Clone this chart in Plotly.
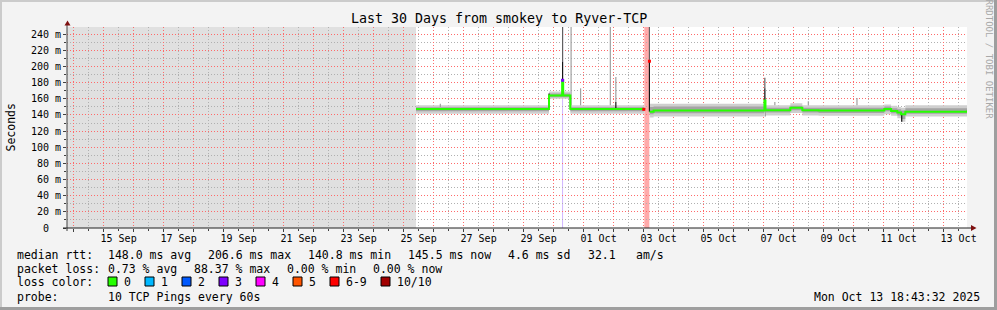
import plotly.graph_objects as go
import datetime as _dt
import pandas as pd

# ---------------- data ----------------
graph_start = "2025-09-13 18:43:32"
graph_end = "2025-10-13 18:43:32"
nodata_start = graph_start
nodata_end = "2025-09-25 09:55"

x_tick_labels = ["15 Sep", "17 Sep", "19 Sep", "21 Sep", "23 Sep", "25 Sep", "27 Sep",
                 "29 Sep", "01 Oct", "03 Oct", "05 Oct", "07 Oct", "09 Oct", "11 Oct", "13 Oct"]
y_tick_values = [0, 20, 40, 60, 80, 100, 120, 140, 160, 180, 200, 220, 240]
y_tick_labels = ["0  ", "20 m", "40 m", "60 m", "80 m", "100 m", "120 m", "140 m",
                 "160 m", "180 m", "200 m", "220 m", "240 m"]

# median rtt / smoke breakpoints in ms (None row = 100% loss gap)
bp_time = ["2025-09-25 09:55", "2025-09-29 20:20", "2025-09-30 06:50", "2025-09-30 07:40",
           "2025-09-30 13:24", "2025-10-03 00:34",
           None,
           "2025-10-03 04:48", "2025-10-03 08:00", "2025-10-07 00:40", "2025-10-07 01:30",
           "2025-10-07 21:24", "2025-10-08 07:00", "2025-10-08 20:00", "2025-10-11 00:36",
           "2025-10-11 06:00", "2025-10-11 11:00", "2025-10-11 14:00", "2025-10-11 17:24",
           "2025-10-13 18:43:32"]
bp_median = [147.5, 164.0, 183.0, 164.0, 147.5, 147.0,
             None,
             144.0, 145.5, 158.0, 146.0, 149.0, 146.0, 145.5, 147.5, 145.0, 143.0, 140.8, 144.0, 145.5]
bp_outer_lo = [141.5, 160.0, 160.0, 160.0, 141.5, 141.5,
               None,
               137.0, 138.0, 143.0, 139.5, 142.5, 139.5, 139.0, 141.0, 139.0, 136.0, 131.5, 138.0, 138.5]
bp_inner_lo = [144.5, 162.0, 162.0, 162.0, 144.5, 144.5,
               None,
               141.0, 142.0, 146.0, 143.0, 146.0, 143.0, 142.5, 144.5, 142.0, 139.5, 135.0, 141.5, 142.0]
bp_inner_hi = [149.5, 166.5, 166.5, 166.5, 149.5, 149.5,
               None,
               150.0, 150.5, 162.0, 149.0, 151.5, 149.0, 149.0, 150.5, 148.5, 147.0, 145.5, 148.5, 149.0]
bp_outer_hi = [152.0, 169.0, 169.0, 169.0, 152.0, 152.0,
               None,
               154.0, 154.0, 170.0, 152.0, 154.5, 152.0, 152.0, 153.0, 151.5, 150.0, 149.0, 152.0, 152.0]

# isolated smoke spikes (ms); shade: 0 light, 1 mid, 2 dark
spike_time = ["2025-09-26 05:24", "2025-09-29 20:20", "2025-09-30 07:12", "2025-09-30 07:12",
              "2025-09-30 13:24", "2025-09-30 14:00", "2025-09-30 21:36", "2025-10-01 21:24",
              "2025-10-02 01:48", "2025-10-02 01:48", "2025-10-03 04:40", "2025-10-03 04:40",
              "2025-10-07 01:00", "2025-10-07 01:00", "2025-10-07 01:24", "2025-10-07 09:00",
              "2025-10-08 11:48", "2025-10-10 02:42", "2025-10-11 14:30"]
spike_lo = [150, 147.5, 164, 206, 147.5, 152, 152, 152, 147.5, 156, 144, 206.6,
            146, 173, 138, 152, 152, 152, 131.5]
spike_hi = [154, 166.5, 206, 249, 164, 249, 173, 249, 156, 187, 206.6, 249,
            173, 186, 146, 156, 157, 161, 141]
spike_shade = [0, 2, 2, 1, 2, 0, 0, 0, 2, 0, 2, 1,
               2, 1, 0, 0, 0, 0, 2]

# median samples with packet loss (colored by loss)
loss_pt_time = ["2025-09-30 07:12", "2025-10-03 00:10", "2025-10-03 04:40"]
loss_pt_ms = [183.0, 147.0, 206.6]
loss_pt_color = ["#7e00ff", "#ff0000", "#ff0000"]

# loss background bands
loss_band_start = ["2025-09-30 06:52", "2025-10-03 00:34"]
loss_band_end = ["2025-09-30 07:34", "2025-10-03 04:36"]
loss_band_color = ["#c8aaff", "#ffaaaa"]

legend_loss_labels = ["0", "1", "2", "3", "4", "5", "6-9", "10/10"]
legend_loss_colors = ["#26ff00", "#00b8ff", "#0059ff", "#7e00ff", "#ff00ff", "#ff5500", "#ff0000", "#a10000"]

# ---------------- layout geometry ----------------
W, H = 997, 310
PL, PR, PT, PB = 67, 967, 27, 228
FONT = "DejaVu Sans Mono"


def px(xp):
    return (xp - PL) / (PR - PL)


def py(yp):
    return (PB - yp) / (PB - PT)


fig = go.Figure()

segs = []
cur = []
for i, t in enumerate(bp_time):
    if t is None:
        if cur:
            segs.append(cur)
        cur = []
    else:
        cur.append(i)
if cur:
    segs.append(cur)

OUTER = "#cfcfcf"
INNER = "#a4a4a4"
for idx in segs:
    t = [bp_time[i] for i in idx]
    fig.add_trace(go.Scatter(x=t, y=[bp_outer_lo[i] for i in idx], mode="lines",
                             line=dict(width=0, shape="hv"), hoverinfo="skip"))
    fig.add_trace(go.Scatter(x=t, y=[bp_outer_hi[i] for i in idx], mode="lines", fill="tonexty",
                             fillcolor=OUTER, line=dict(width=0, shape="hv"), hoverinfo="skip"))
    fig.add_trace(go.Scatter(x=t, y=[bp_inner_lo[i] for i in idx], mode="lines",
                             line=dict(width=0, shape="hv"), hoverinfo="skip"))
    fig.add_trace(go.Scatter(x=t, y=[bp_inner_hi[i] for i in idx], mode="lines", fill="tonexty",
                             fillcolor=INNER, line=dict(width=0, shape="hv"), hoverinfo="skip"))

for shade, col in [(0, "#a0a0a0"), (1, "#606060"), (2, "#141414")]:
    xs, ys = [], []
    for t, lo, hi, s in zip(spike_time, spike_lo, spike_hi, spike_shade):
        if s == shade:
            xs += [t, t, None]
            ys += [lo, hi, None]
    fig.add_trace(go.Scatter(x=xs, y=ys, mode="lines", line=dict(color=col, width=1.2),
                             hoverinfo="skip"))

for idx in segs:
    fig.add_trace(go.Scatter(x=[bp_time[i] for i in idx], y=[bp_median[i] for i in idx],
                             mode="lines", line=dict(color="#26ff00", width=2, shape="hv"),
                             hoverinfo="skip"))

fig.add_trace(go.Scatter(x=loss_pt_time, y=loss_pt_ms, mode="markers",
                         marker=dict(symbol="square", size=3, color=loss_pt_color, line=dict(width=0)),
                         hoverinfo="skip"))

label_times = [_dt.datetime.strptime(f"{lab} 2025 12:00", "%d %b %Y %H:%M") for lab in x_tick_labels]
fig.add_trace(go.Scatter(x=[graph_start, graph_end], y=[None, None], xaxis="x2", mode="lines",
                         hoverinfo="skip"))

# grid positions: midnights (major) and noons (minor); y minor between major ticks
x_major_grid = list(pd.date_range("2025-09-14 00:00", "2025-10-13 00:00", freq="D"))
x_minor_grid = list(pd.date_range("2025-09-13 12:00", "2025-10-13 12:00", freq="D"))
y_minor_grid = [v + 10 for v in y_tick_values]

shapes = []
shapes.append(dict(type="rect", xref="x", yref="paper", x0=nodata_start, x1=nodata_end, y0=0, y1=1,
                   fillcolor="#e0e0e0", line=dict(width=0), layer="below"))
for s, e, c in zip(loss_band_start, loss_band_end, loss_band_color):
    shapes.append(dict(type="rect", xref="x", yref="paper", x0=s, x1=e, y0=0, y1=1,
                       fillcolor=c, line=dict(width=0), layer="between"))

AX = "#404040"
shapes.append(dict(type="line", xref="paper", yref="paper", x0=px(PL), x1=px(PL), y0=py(231), y1=py(25),
                   line=dict(color=AX, width=1), layer="above"))
shapes.append(dict(type="line", xref="paper", yref="paper", x0=px(63), x1=px(971), y0=py(PB), y1=py(PB),
                   line=dict(color="#202020", width=1), layer="above"))
ARR = "#7f1010"
shapes.append(dict(type="path", xref="paper", yref="paper",
                   path=f"M {px(67.5)},{py(20.5)} L {px(64.5)},{py(25.5)} L {px(70.5)},{py(25.5)} Z",
                   fillcolor=ARR, line=dict(width=0), layer="above"))
shapes.append(dict(type="path", xref="paper", yref="paper",
                   path=f"M {px(976.5)},{py(PB)} L {px(971)},{py(225)} L {px(971)},{py(231)} Z",
                   fillcolor=ARR, line=dict(width=0), layer="above"))
shapes.append(dict(type="rect", xref="paper", yref="paper", x0=px(0), x1=px(W), y0=py(0), y1=py(2),
                   fillcolor="#cbcbcb", line=dict(width=0), layer="above"))
shapes.append(dict(type="rect", xref="paper", yref="paper", x0=px(0), x1=px(2), y0=py(0), y1=py(H),
                   fillcolor="#cbcbcb", line=dict(width=0), layer="above"))
shapes.append(dict(type="rect", xref="paper", yref="paper", x0=px(0), x1=px(W), y0=py(H - 3), y1=py(H),
                   fillcolor="#9e9e9e", line=dict(width=0), layer="above"))
shapes.append(dict(type="rect", xref="paper", yref="paper", x0=px(W - 3), x1=px(W), y0=py(0), y1=py(H),
                   fillcolor="#9e9e9e", line=dict(width=0), layer="above"))

box_x = [108, 145, 182, 219, 256, 293, 330, 381]
lbl_x = [123, 160, 197, 234, 271, 308, 345, 396]
annotations = []
for bx, lx, lab, col in zip(box_x, lbl_x, legend_loss_labels, legend_loss_colors):
    shapes.append(dict(type="rect", xref="paper", yref="paper", x0=px(bx), x1=px(bx + 9),
                       y0=py(277), y1=py(286), fillcolor=col, line=dict(color="#000000", width=1),
                       layer="above"))
    annotations.append((lx, 282, lab))

LEG = 11.5


def nb(s):
    return s.replace(" ", "\u00a0")


legend_items = [
    (16, 254.5, "median rtt:"), (107, 254.5, "148.0 ms avg"), (207, 254.5, "206.6 ms max"),
    (307, 254.5, "140.8 ms min"), (407, 254.5, "145.5 ms now"), (507, 254.5, "4.6 ms sd"),
    (587, 254.5, "32.1"), (635, 254.5, "am/s"),
    (16, 268.5, "packet loss:"), (107, 268.5, "0.73 % avg"), (193, 268.5, "88.37 % max"),
    (286, 268.5, "0.00 % min"), (372, 268.5, "0.00 % now"),
    (16, 282, "loss color:"),
    (16, 296.5, "probe:"), (107, 296.5, "10 TCP Pings every 60s"),
] + annotations

ann = []
for x, y, t in legend_items:
    ann.append(dict(xref="paper", yref="paper", x=px(x), y=py(y), text=nb(t), showarrow=False,
                    xanchor="left", yanchor="middle", borderpad=0,
                    font=dict(family=FONT, size=LEG, color="#000000")))
ann.append(dict(xref="paper", yref="paper", x=px(981), y=py(296.5), text=nb("Mon Oct 13 18:43:32 2025"),
                showarrow=False, xanchor="right", yanchor="middle", borderpad=0,
                font=dict(family=FONT, size=LEG, color="#000000")))
ann.append(dict(xref="paper", yref="paper", x=px(498.5), y=py(19), text=nb("Last 30 Days from smokey to Ryver-TCP"),
                showarrow=False, xanchor="center", yanchor="middle", borderpad=0,
                font=dict(family=FONT, size=13.3, color="#000000")))
ann.append(dict(xref="paper", yref="paper", x=px(10.5), y=py(128), text="Seconds", textangle=-90,
                showarrow=False, xanchor="center", yanchor="middle", borderpad=0,
                font=dict(family=FONT, size=11.5, color="#000000")))
ann.append(dict(xref="paper", yref="paper", x=px(988.5), y=py(59), text=nb("RRDTOOL / TOBI OETIKER"), textangle=90,
                showarrow=False, xanchor="center", yanchor="middle", borderpad=0,
                font=dict(family=FONT, size=9, color="#a8a8a8")))

GRID_MAJ = "#ff6a6a"
GRID_MIN = "#b0b0b0"

fig.update_layout(
    width=W, height=H,
    margin=dict(l=PL, r=W - PR, t=PT, b=H - PB, pad=0),
    paper_bgcolor="#f3f3f3", plot_bgcolor="#ffffff",
    showlegend=False,
    font=dict(family=FONT, size=10, color="#000000"),
    shapes=shapes, annotations=ann,
    xaxis=dict(type="date", range=[graph_start, graph_end], tickmode="array", tickvals=x_major_grid,
               showgrid=True, gridcolor=GRID_MAJ, griddash="1px,2px", gridwidth=1,
               showticklabels=False, ticks="outside", ticklen=3, tickcolor=AX, showline=False,
               zeroline=False,
               minor=dict(tickmode="array", tickvals=x_minor_grid, showgrid=True, gridcolor=GRID_MIN,
                          griddash="1px,2px", gridwidth=1, ticks="outside", ticklen=2, tickcolor=AX)),
    xaxis2=dict(type="date", overlaying="x", side="bottom", range=[graph_start, graph_end],
                tickvals=label_times, ticktext=x_tick_labels, showgrid=False, ticks="", ticklen=0,
                ticklabelstandoff=3,
                showline=False, zeroline=False, tickfont=dict(family=FONT, size=10, color="#000000")),
    yaxis=dict(range=[0, 249], tickvals=y_tick_values, ticktext=[nb(s) for s in y_tick_labels],
               showgrid=True, gridcolor=GRID_MAJ, griddash="1px,2px", gridwidth=1,
               ticks="outside", ticklen=3, tickcolor=AX, showline=False, zeroline=False,
               tickfont=dict(family=FONT, size=10, color="#000000"),
               minor=dict(tickmode="array", tickvals=y_minor_grid, showgrid=True, gridcolor=GRID_MIN,
                          griddash="1px,2px", gridwidth=1, ticks="outside", ticklen=2, tickcolor=AX)),
)

fig.write_html("out.html")
